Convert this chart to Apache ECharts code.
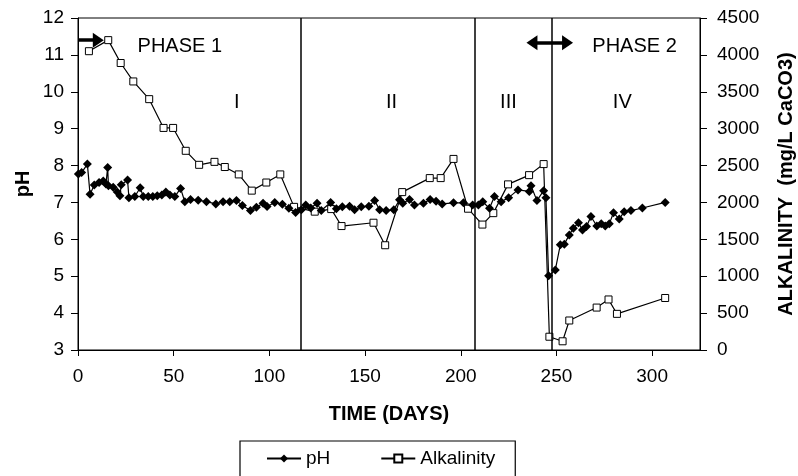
<!DOCTYPE html>
<html>
<head>
<meta charset="utf-8">
<script src="https://cdn.jsdelivr.net/npm/echarts@6/dist/echarts.min.js"></script>
<style>html,body{margin:0;padding:0;background:#fff}#c{width:798px;height:476px}</style>
</head>
<body>
<div id="c"></div>
<script>
// pH readings: day and value
var phDays = [0.2,1.9,4.9,6.3,8.5,11,13.2,14.6,15.5,15.9,18.4,20.5,21.9,22.6,25.9,26.6,29.7,32.5,34.1,36.7,39.1,41.4,43.8,45.9,48,50.6,53.6,55.8,58.8,62.8,67.1,72,75.8,79.3,82.8,85.9,90.1,93.2,96.7,98.8,102.8,106.8,110.2,113.7,116.7,119,121.6,124.9,127.1,132,135,138.1,141.9,144.5,148,152,155,157.6,161,165,168,169.7,173.2,175.8,180.5,184,187.1,190.3,196.2,201.4,206.2,209.2,211.5,215,217.6,221.1,225,229.9,235.8,236.7,239.8,243.3,244.5,245.9,249.4,252,254.1,256.7,258.8,261.5,263.6,265.7,268,271.1,273.4,275.5,277.6,279.8,282.8,285.4,288.9,294.9,306.8];
var phValues = [7.77,7.81,8.04,7.22,7.47,7.54,7.58,7.5,7.95,7.45,7.41,7.28,7.18,7.48,7.61,7.13,7.16,7.4,7.16,7.16,7.16,7.18,7.2,7.28,7.2,7.16,7.38,7.02,7.08,7.06,7.02,6.96,7.02,7.02,7.05,6.92,6.78,6.87,6.98,6.89,7.0,6.95,6.84,6.73,6.8,6.93,6.85,6.98,6.78,7.0,6.83,6.88,6.9,6.8,6.88,6.9,7.05,6.8,6.78,6.8,7.07,6.98,7.08,6.93,6.98,7.08,7.03,6.96,6.99,6.99,6.93,6.93,7.02,6.84,7.16,7.02,7.13,7.34,7.3,7.45,7.05,7.32,7.13,5.01,5.17,5.85,5.87,6.12,6.3,6.45,6.25,6.35,6.62,6.36,6.42,6.36,6.42,6.72,6.55,6.75,6.78,6.85,7.0];
// alkalinity readings (mg/L CaCO3)
var alkDays = [5.7,15.8,22.3,28.9,37.2,44.7,49.7,56.3,63.3,71.3,76.7,84,90.8,98.4,105.7,112.9,123.7,132.3,137.7,154.4,160.5,169.4,183.8,189.5,196.2,203.8,211.3,217,224.7,235.7,243.3,246.3,253.2,256.7,271,277.2,281.6,306.8];
var alkValues = [4050,4200,3890,3640,3400,3010,3010,2700,2510,2550,2480,2380,2160,2270,2380,1940,1875,1910,1680,1725,1420,2140,2330,2330,2590,1915,1700,1855,2245,2370,2520,180,118,400,575,685,490,705];
// period boundaries (days)
var boundaries = [116.2, 207.5, 247.7];
// annotations
var labelNames = ['PHASE 1','I','II','III','IV','PHASE 2'];
var labelDays = [53.2, 83, 163.8, 224.9, 284.4, 290.8];
var labelPh = [11.24, 9.70, 9.70, 9.70, 9.70, 11.24];
var arrow1 = [[0, 11.4],[10.6, 11.4]];
var arrow2 = [[237.2, 11.33],[255.8, 11.33]];

var font = '"Liberation Sans", Arial, sans-serif';
function zip(a,b){return a.map(function(v,i){return [v,b[i]];});}

var markLineData = boundaries.map(function(d){
  return {xAxis: d, lineStyle:{color:'#000',width:1.5,type:'solid'}, label:{show:false}};
});
var arrowStyle = {color:'#000',width:3.5,type:'solid'};
markLineData.push([
  {coord: arrow1[0], symbol:'none', lineStyle:arrowStyle},
  {coord: arrow1[1], symbol:'triangle', symbolSize:[15,11], lineStyle:arrowStyle}
]);
markLineData.push([
  {coord: arrow2[0], symbol:'triangle', symbolSize:[15,11], lineStyle:arrowStyle},
  {coord: arrow2[1], symbol:'triangle', symbolSize:[15,11], lineStyle:arrowStyle}
]);

var markPointData = labelNames.map(function(n,i){
  return {name:n, coord:[labelDays[i], labelPh[i]]};
});

var chart = echarts.init(document.getElementById('c'));
chart.setOption({
  animation:false,
  backgroundColor:'#fff',
  textStyle:{fontFamily:font, color:'#000'},
  grid:{left:78, right:98, top:18, bottom:126, containLabel:false, outerBoundsMode:'none', show:true, borderColor:'#000', borderWidth:1, backgroundColor:'transparent'},
  legend:{
    data:['pH','Alkalinity'],
    left:240, top:441,
    padding:[8,20,30,26],
    borderColor:'#000', borderWidth:1.2,
    itemGap:50, itemWidth:34, itemHeight:10,
    textStyle:{fontSize:19, color:'#000', fontFamily:font}
  },
  xAxis:{
    type:'value', min:0, max:325, interval:50,
    name:'TIME (DAYS)', nameLocation:'middle', nameGap:54, nameMoveOverlap:false,
    nameTextStyle:{fontSize:20, fontWeight:'bold', color:'#000', fontFamily:font},
    axisLine:{lineStyle:{color:'#000', width:1}},
    axisTick:{length:6, lineStyle:{color:'#000'}},
    axisLabel:{fontSize:19, color:'#000', margin:17, showMaxLabel:false, fontFamily:font},
    splitLine:{show:false}
  },
  yAxis:[{
    type:'value', min:3, max:12, interval:1, position:'left',
    name:'pH', nameLocation:'middle', nameGap:45, nameRotate:90, nameMoveOverlap:false,
    nameTextStyle:{fontSize:20, fontWeight:'bold', color:'#000', fontFamily:font},
    axisLine:{show:true, lineStyle:{color:'#000', width:1}},
    axisTick:{show:true, length:7, lineStyle:{color:'#000'}},
    axisLabel:{fontSize:19, color:'#000', margin:14, fontFamily:font},
    splitLine:{show:false}
  },{
    type:'value', min:0, max:4500, interval:500, position:'right',
    name:'ALKALINITY  (mg/L CaCO3)', nameLocation:'middle', nameGap:76, nameRotate:90, nameMoveOverlap:false,
    nameTextStyle:{fontSize:20, fontWeight:'bold', color:'#000', fontFamily:font},
    axisLine:{show:true, lineStyle:{color:'#000', width:1}},
    axisTick:{show:true, length:7, lineStyle:{color:'#000'}},
    axisLabel:{fontSize:19, color:'#000', margin:17, fontFamily:font, formatter:function(v){return String(v);}},
    splitLine:{show:false}
  }],
  series:[{
    name:'Alkalinity', type:'line', yAxisIndex:1, z:2,
    data: zip(alkDays, alkValues),
    symbol:'rect', symbolSize:7,
    itemStyle:{color:'#fff', borderColor:'#000', borderWidth:1},
    lineStyle:{color:'#000', width:1.2}
  },{
    name:'pH', type:'line', yAxisIndex:0, z:3,
    data: zip(phDays, phValues),
    symbol:'diamond', symbolSize:9,
    itemStyle:{color:'#000'},
    lineStyle:{color:'#000', width:1.2},
    markLine:{silent:true, animation:false, symbol:['none','none'], data:markLineData},
    markPoint:{silent:true, symbol:'circle', symbolSize:1, itemStyle:{color:'rgba(0,0,0,0)'},
      label:{show:true, position:'inside', formatter:'{b}', fontSize:20, color:'#000', fontFamily:font},
      data:markPointData}
  }]
});
</script>
</body>
</html>
